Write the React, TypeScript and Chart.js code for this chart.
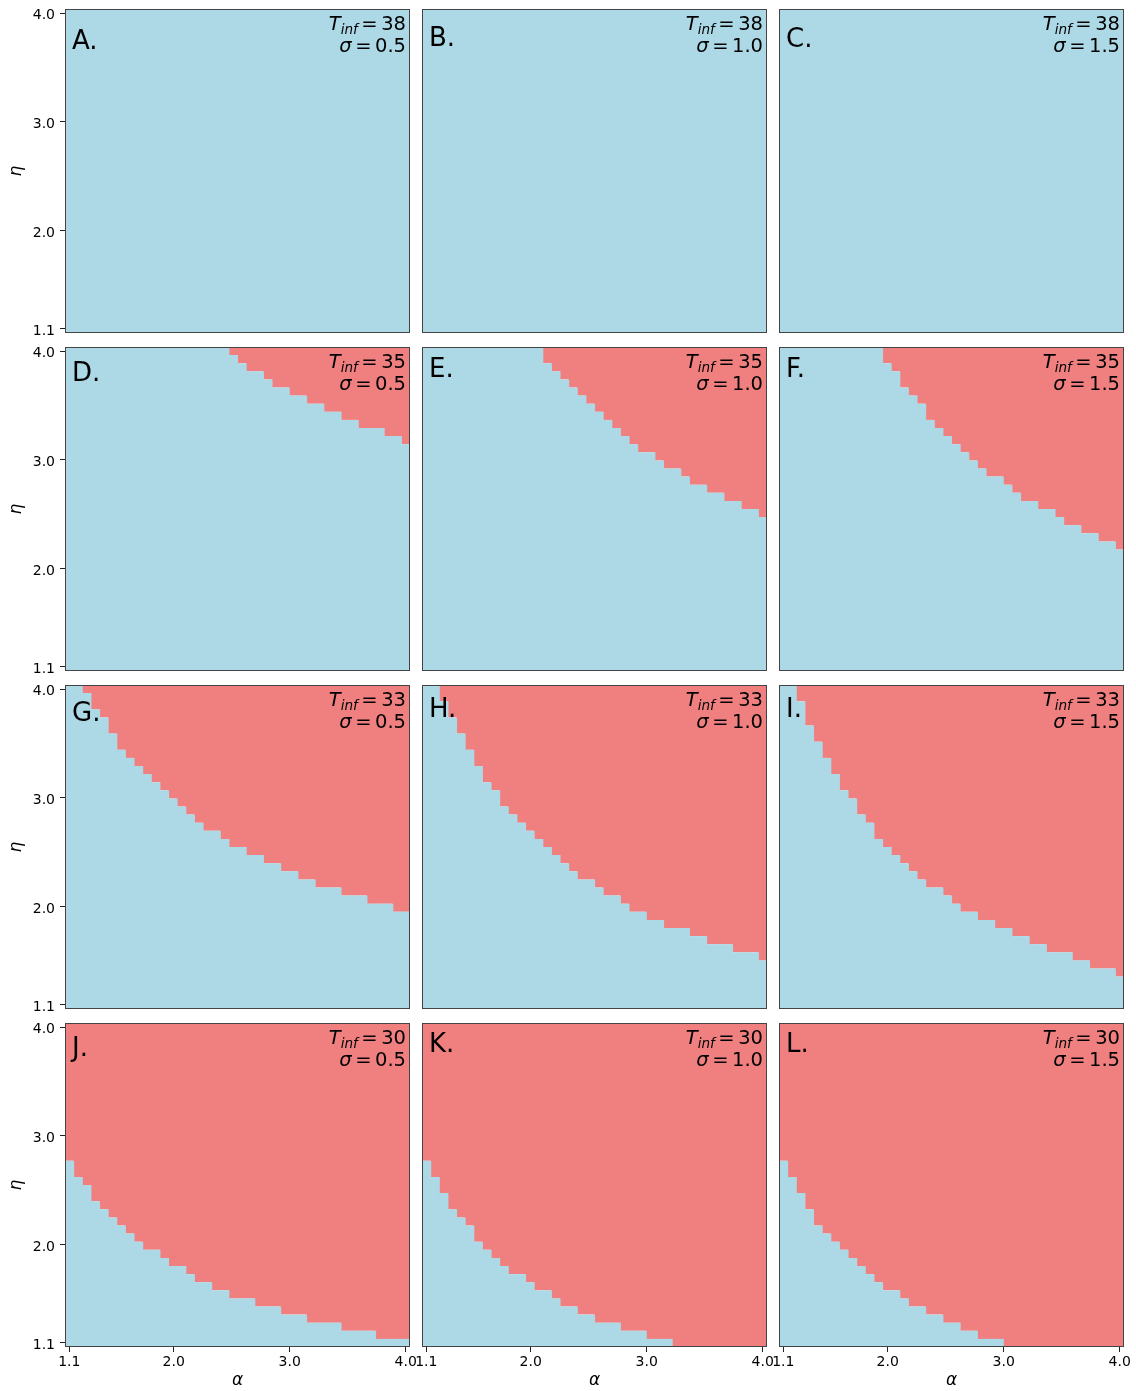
import { useEffect, useRef } from 'react';
import { Chart, registerables } from 'chart.js';

Chart.register(...registerables);

// Parameter grid: 40 x 40 cells, alpha and eta both sampled from 1.1 to 4.0
const GRID_N = 40;
const GRID_LO = 1.1;
const GRID_HI = 4.0;
const STEP = (GRID_HI - GRID_LO) / (GRID_N - 1);
const EDGE_LO = GRID_LO - STEP / 2;
const EDGE_HI = GRID_HI + STEP / 2;
const ALPHA = Array.from({ length: GRID_N }, (_, i) => GRID_LO + i * STEP);

const AXIS_TICKS = [1.1, 2.0, 3.0, 4.0];
const T_INF = [38, 35, 33, 30];
const SIGMA = ['0.5', '1.0', '1.5'];
const LETTERS = ['A.', 'B.', 'C.', 'D.', 'E.', 'F.', 'G.', 'H.', 'I.', 'J.', 'K.', 'L.'];

// Number of blue cells (counted upward from eta = 1.1) in each alpha column; the rest is red
const BLUE_A = [40, 40, 40, 40, 40, 40, 40, 40, 40, 40, 40, 40, 40, 40, 40, 40, 40, 40, 40, 40, 40, 40, 40, 40, 40, 40, 40, 40, 40, 40, 40, 40, 40, 40, 40, 40, 40, 40, 40, 40];
const BLUE_B = [40, 40, 40, 40, 40, 40, 40, 40, 40, 40, 40, 40, 40, 40, 40, 40, 40, 40, 40, 40, 40, 40, 40, 40, 40, 40, 40, 40, 40, 40, 40, 40, 40, 40, 40, 40, 40, 40, 40, 40];
const BLUE_C = [40, 40, 40, 40, 40, 40, 40, 40, 40, 40, 40, 40, 40, 40, 40, 40, 40, 40, 40, 40, 40, 40, 40, 40, 40, 40, 40, 40, 40, 40, 40, 40, 40, 40, 40, 40, 40, 40, 40, 40];
const BLUE_D = [40, 40, 40, 40, 40, 40, 40, 40, 40, 40, 40, 40, 40, 40, 40, 40, 40, 40, 40, 39, 38, 37, 37, 36, 35, 35, 34, 34, 33, 33, 32, 32, 31, 31, 30, 30, 30, 29, 29, 28];
const BLUE_E = [40, 40, 40, 40, 40, 40, 40, 40, 40, 40, 40, 40, 40, 40, 38, 37, 36, 35, 34, 33, 32, 31, 30, 29, 28, 27, 27, 26, 25, 25, 24, 23, 23, 22, 22, 21, 21, 20, 20, 19];
const BLUE_F = [40, 40, 40, 40, 40, 40, 40, 40, 40, 40, 40, 40, 38, 37, 35, 34, 33, 31, 30, 29, 28, 27, 26, 25, 24, 24, 23, 22, 21, 21, 20, 20, 19, 18, 18, 17, 17, 16, 16, 15];
const BLUE_G = [40, 40, 39, 37, 36, 34, 32, 31, 30, 29, 28, 27, 26, 25, 24, 23, 22, 22, 21, 20, 20, 19, 19, 18, 18, 17, 17, 16, 16, 15, 15, 15, 14, 14, 14, 13, 13, 13, 12, 12];
const BLUE_H = [40, 40, 38, 36, 34, 32, 30, 28, 27, 25, 24, 23, 22, 21, 20, 19, 18, 17, 16, 16, 15, 14, 14, 13, 12, 12, 11, 11, 10, 10, 10, 9, 9, 8, 8, 8, 7, 7, 7, 6];
const BLUE_I = [40, 40, 38, 35, 33, 31, 29, 27, 26, 24, 23, 21, 20, 19, 18, 17, 16, 15, 15, 14, 13, 12, 12, 11, 11, 10, 10, 9, 9, 8, 8, 7, 7, 7, 6, 6, 5, 5, 5, 4];
const BLUE_J = [23, 21, 20, 18, 17, 16, 15, 14, 13, 12, 12, 11, 10, 10, 9, 8, 8, 7, 7, 6, 6, 6, 5, 5, 5, 4, 4, 4, 3, 3, 3, 3, 2, 2, 2, 2, 1, 1, 1, 1];
const BLUE_K = [23, 21, 19, 17, 16, 15, 13, 12, 11, 10, 9, 9, 8, 7, 7, 6, 5, 5, 4, 4, 3, 3, 3, 2, 2, 2, 1, 1, 1, 0, 0, 0, 0, 0, 0, 0, 0, 0, 0, 0];
const BLUE_L = [23, 21, 19, 17, 15, 14, 13, 12, 11, 10, 9, 8, 7, 7, 6, 5, 5, 4, 4, 3, 3, 2, 2, 1, 1, 1, 0, 0, 0, 0, 0, 0, 0, 0, 0, 0, 0, 0, 0, 0];

const PANEL_BLUE = [BLUE_A, BLUE_B, BLUE_C, BLUE_D, BLUE_E, BLUE_F, BLUE_G, BLUE_H, BLUE_I, BLUE_J, BLUE_K, BLUE_L];

const BLUE = '#add8e6';
const RED = '#f08080';

// Page layout of the 4 x 3 panel grid
const COL_X = [65, 422, 779];
const ROW_Y = [9, 347, 685, 1023];
const PANEL_W = 345;
const PANEL_H = 324;
const PAD_L = 60;
const PAD_T = 20;
const PAD_R = 14;
const PAD_B = 44;
const CANVAS_W = PAD_L + PANEL_W + PAD_R;
const CANVAS_H = PAD_T + PANEL_H + PAD_B;
const LETTER_DY = [40, 37, 38, 34, 30, 30, 36, 32, 32, 33, 29, 29];

const FAMILY = '"DejaVu Sans"';
const MATH = `19.5px ${FAMILY}`;
const MATH_IT = `italic 19.5px ${FAMILY}`;
const SUB_IT = `italic 13.6px ${FAMILY}`;

type Run = { text: string; font: string; dy?: number; gap?: number };

function drawRuns(ctx: CanvasRenderingContext2D, right: number, baseline: number, runs: Run[]) {
  let total = 0;
  const widths = runs.map((r) => {
    ctx.font = r.font;
    const w = ctx.measureText(r.text).width;
    total += w + (r.gap ?? 0);
    return w;
  });
  let x = right - total;
  runs.forEach((r, i) => {
    x += r.gap ?? 0;
    ctx.font = r.font;
    ctx.fillText(r.text, x, baseline + (r.dy ?? 0));
    x += widths[i];
  });
}

function decorPlugin(idx: number) {
  const row = Math.floor(idx / 3);
  const col = idx % 3;
  return {
    id: 'panelDecor' + idx,
    afterDatasetsDraw(chart: Chart) {
      const { ctx, chartArea } = chart;
      const { left, top, right, bottom } = chartArea;
      ctx.save();
      ctx.strokeStyle = '#444';
      ctx.lineWidth = 1;
      ctx.strokeRect(left + 0.5, top + 0.5, right - left - 1, bottom - top - 1);

      ctx.fillStyle = '#000';
      ctx.textAlign = 'left';
      ctx.textBaseline = 'alphabetic';
      ctx.font = `26px ${FAMILY}`;
      ctx.fillText(LETTERS[idx], left + 7, top + LETTER_DY[idx]);

      drawRuns(ctx, right - 4, top + 20.5, [
        { text: 'T', font: MATH_IT },
        { text: 'inf', font: SUB_IT, dy: 4 },
        { text: '=', font: MATH, gap: 3.5 },
        { text: String(T_INF[row]), font: MATH, gap: 3.5 },
      ]);
      drawRuns(ctx, right - 4, top + 43, [
        { text: 'σ', font: MATH_IT },
        { text: '=', font: MATH, gap: 3.5 },
        { text: SIGMA[col], font: MATH, gap: 3.5 },
      ]);
      ctx.restore();
    },
  };
}

function fixedTicks(scale: any) {
  scale.ticks = AXIS_TICKS.map((v) => ({ value: v }));
}

function Panel({ idx }: { idx: number }) {
  const ref = useRef<HTMLCanvasElement | null>(null);
  const row = Math.floor(idx / 3);
  const col = idx % 3;

  useEffect(() => {
    const canvas = ref.current;
    if (!canvas) return;
    const blue = PANEL_BLUE[idx];
    const showY = col === 0;
    const showX = row === 3;

    const blueBars = ALPHA.map((a, i) => ({
      x: a,
      y: blue[i] > 0 ? [EDGE_LO, EDGE_LO + blue[i] * STEP] : null,
    }));
    const redBars = ALPHA.map((a, i) => ({
      x: a,
      y: blue[i] < GRID_N ? [EDGE_LO + blue[i] * STEP, EDGE_HI] : null,
    }));

    const barStyle = {
      borderWidth: 0,
      barPercentage: 1.13,
      categoryPercentage: 1,
      grouped: false,
      clip: 0,
    };

    const tickFont = { family: 'DejaVu Sans', size: 14 };
    const titleFont = { family: 'DejaVu Sans', size: 17, style: 'italic' as const, lineHeight: 1.2 };

    const chart = new Chart(canvas, {
      type: 'bar',
      data: {
        datasets: [
          { data: blueBars as any, backgroundColor: BLUE, ...barStyle },
          { data: redBars as any, backgroundColor: RED, ...barStyle },
        ],
      },
      options: {
        animation: false,
        responsive: false,
        devicePixelRatio: 1,
        events: [],
        layout: { padding: { left: 0, top: PAD_T, right: PAD_R, bottom: 0 } },
        plugins: { legend: { display: false }, tooltip: { enabled: false } },
        scales: {
          x: {
            type: 'linear',
            min: EDGE_LO,
            max: EDGE_HI,
            offset: false,
            afterBuildTicks: fixedTicks,
            afterFit: (s: any) => {
              s.height = PAD_B;
            },
            ticks: {
              display: showX,
              autoSkip: false,
              maxRotation: 0,
              minRotation: 0,
              padding: 2,
              color: '#000',
              font: tickFont,
              callback: (v: any) => Number(v).toFixed(1),
            },
            grid: {
              display: showX,
              offset: false,
              drawOnChartArea: false,
              drawTicks: true,
              tickLength: 5,
              tickWidth: 1,
              tickColor: '#222',
            },
            border: { display: false },
            title: {
              display: showX,
              text: 'α',
              color: '#000',
              font: titleFont,
              padding: { top: 0, bottom: 0 },
            },
          },
          y: {
            type: 'linear',
            min: EDGE_LO,
            max: EDGE_HI,
            beginAtZero: false,
            afterBuildTicks: fixedTicks,
            afterFit: (s: any) => {
              s.width = PAD_L;
            },
            ticks: {
              display: showY,
              autoSkip: false,
              padding: 5,
              labelOffset: 2,
              color: '#000',
              font: tickFont,
              callback: (v: any) => Number(v).toFixed(1),
            },
            grid: {
              display: showY,
              drawOnChartArea: false,
              drawTicks: true,
              tickLength: 5,
              tickWidth: 1,
              tickColor: '#222',
            },
            border: { display: false },
            title: {
              display: showY,
              text: 'η',
              color: '#000',
              font: titleFont,
              padding: { top: 1, bottom: 0 },
            },
          },
        },
      },
      plugins: [decorPlugin(idx)],
    });
    return () => chart.destroy();
  }, [idx, row, col]);

  return (
    <canvas
      ref={ref}
      width={CANVAS_W}
      height={CANVAS_H}
      style={{
        position: 'absolute',
        left: COL_X[col] - PAD_L,
        top: ROW_Y[row] - PAD_T,
        width: CANVAS_W,
        height: CANVAS_H,
      }}
    />
  );
}

export default function App() {
  return (
    <div
      style={{
        position: 'absolute',
        left: 0,
        top: 0,
        width: 1136,
        height: 1391,
        background: '#fff',
        overflow: 'hidden',
      }}
    >
      {LETTERS.map((_, i) => (
        <Panel key={i} idx={i} />
      ))}
    </div>
  );
}
